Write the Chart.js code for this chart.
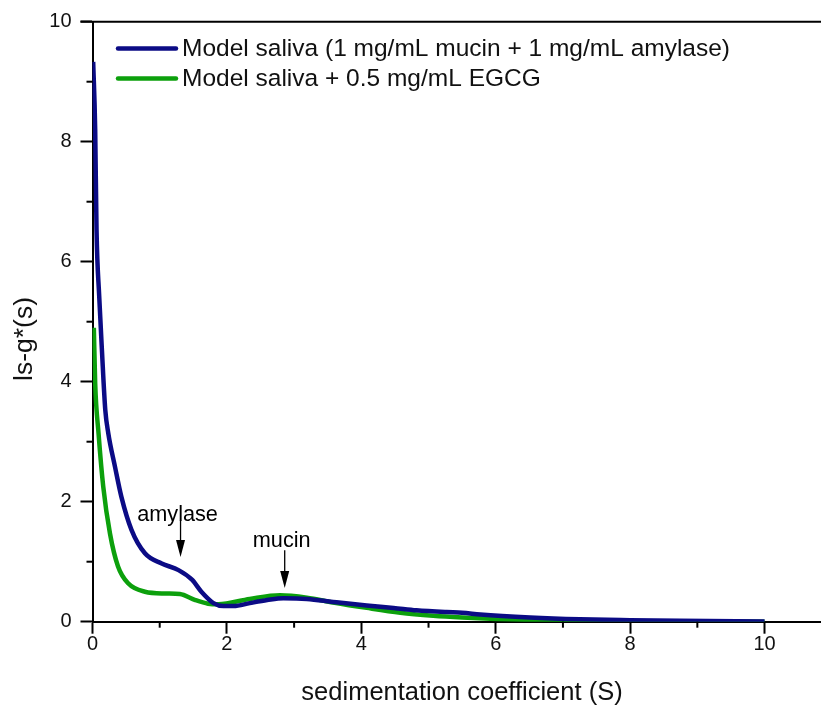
<!DOCTYPE html>
<html>
<head>
<meta charset="utf-8">
<script src="https://cdn.jsdelivr.net/npm/chart.js@4"></script>
<style>
  html, body { margin: 0; padding: 0; background: #fff; overflow: hidden; }
  #wrap { width: 821px; height: 709px; }
</style>
</head>
<body>
<div id="wrap"><canvas id="myChart" width="821" height="709"></canvas></div>
<script>
const FONT = "'Liberation Sans', Arial, sans-serif";

// model saliva (mucin + amylase)
const salivaS = [0.01, 0.04, 0.06, 0.1, 0.14, 0.19, 0.235, 0.335, 0.43, 0.58, 0.78, 1.03, 1.28, 1.48, 1.62, 1.8, 1.95, 2.1, 2.34, 2.6, 2.84, 3.19, 3.58, 4.08, 4.48, 4.82, 5.27, 5.5, 5.77, 6.51, 7.25, 8.0, 8.74, 10];
const salivaG = [9.33, 8.2, 6.53, 5.42, 4.53, 3.53, 3.14, 2.58, 2.08, 1.53, 1.14, 0.97, 0.86, 0.70, 0.50, 0.31, 0.26, 0.26, 0.31, 0.36, 0.39, 0.38, 0.33, 0.27, 0.23, 0.19, 0.16, 0.15, 0.12, 0.07, 0.04, 0.025, 0.015, 0.005];

// model saliva + EGCG
const egcgS = [0.02, 0.04, 0.09, 0.16, 0.26, 0.38, 0.53, 0.78, 1.08, 1.3, 1.53, 1.72, 1.87, 2.34, 2.79, 3.19, 3.58, 4.08, 4.58, 5.07, 5.5, 6.0, 6.51, 7.5, 10];
const egcgG = [4.9, 3.97, 3.14, 2.25, 1.47, 0.92, 0.64, 0.50, 0.47, 0.46, 0.36, 0.30, 0.29, 0.38, 0.44, 0.40, 0.32, 0.23, 0.15, 0.10, 0.07, 0.045, 0.03, 0.01, 0.0];

const seriesLabels = ['Model saliva (1 mg/mL mucin + 1 mg/mL amylase)', 'Model saliva + 0.5 mg/mL EGCG'];
const xTicks = [0, 2, 4, 6, 8, 10];
const yTicks = [0, 2, 4, 6, 8, 10];

const notes = [
  { text: 'amylase', x: 1.31, textY: 1.68, from: 1.69, to: 1.08 },
  { text: 'mucin', x: 2.86, textY: 1.25, from: 1.19, to: 0.56 }
];

const toPoints = (xs, ys) => xs.map((x, i) => ({ x: x, y: ys[i] }));

const extras = {
  id: 'extras',
  afterDraw(chart) {
    const c = chart.ctx, a = chart.chartArea;
    const xs = chart.scales.x, ys = chart.scales.y;
    c.save();
    c.strokeStyle = '#000';
    c.lineWidth = 2;
    // top frame line
    c.beginPath();
    c.moveTo(a.left - 12, a.top);
    c.lineTo(a.right, a.top);
    c.stroke();
    // minor ticks
    for (let v = 1; v < 10; v += 2) {
      const px = xs.getPixelForValue(v);
      c.beginPath(); c.moveTo(px, a.bottom); c.lineTo(px, a.bottom + 6); c.stroke();
      const py = ys.getPixelForValue(v);
      c.beginPath(); c.moveTo(a.left, py); c.lineTo(a.left - 6, py); c.stroke();
    }
    // annotations
    c.fillStyle = '#000';
    c.font = '21.7px ' + FONT;
    c.textAlign = 'center';
    c.textBaseline = 'alphabetic';
    c.lineWidth = 1.3;
    notes.forEach(n => {
      const px = xs.getPixelForValue(n.x);
      c.fillText(n.text, px - 3, ys.getPixelForValue(n.textY));
      const y0 = ys.getPixelForValue(n.from), y1 = ys.getPixelForValue(n.to);
      c.beginPath(); c.moveTo(px, y0); c.lineTo(px, y1 - 14); c.stroke();
      c.beginPath();
      c.moveTo(px - 4.5, y1 - 17); c.lineTo(px + 4.5, y1 - 17); c.lineTo(px, y1); c.closePath();
      c.fill();
    });
    // legend
    c.font = '24.5px ' + FONT;
    c.textAlign = 'left';
    c.textBaseline = 'middle';
    chart.data.datasets.forEach((ds, i) => {
      const y = 48.5 + i * 30;
      c.strokeStyle = ds.borderColor;
      c.lineWidth = 4.5;
      c.lineCap = 'round';
      c.beginPath(); c.moveTo(118, y); c.lineTo(176, y); c.stroke();
      c.fillStyle = '#111';
      c.fillText(ds.label, 182, y + 1);
    });
    // axis titles
    c.font = '25.5px ' + FONT;
    c.textAlign = 'center';
    c.fillText('sedimentation coefficient (S)', 462, 693);
    c.font = '26.5px ' + FONT;
    c.translate(25, 339);
    c.rotate(-Math.PI / 2);
    c.fillText('ls-g*(s)', 0, 0);
    c.restore();
  }
};

const ctx = document.getElementById('myChart');

const myChart = new Chart(ctx, {
  type: 'line',
  data: {
    datasets: [{
      label: seriesLabels[0],
      data: toPoints(salivaS, salivaG),
      borderColor: '#0b0b85',
      borderWidth: 4.5,
      pointRadius: 0,
      cubicInterpolationMode: 'monotone'
    }, {
      label: seriesLabels[1],
      data: toPoints(egcgS, egcgG),
      borderColor: '#0ca00c',
      borderWidth: 4.5,
      pointRadius: 0,
      cubicInterpolationMode: 'monotone'
    }]
  },
  options: {
    responsive: false,
    animation: false,
    events: [],
    layout: { padding: { top: 21.7, right: 0, left: 0, bottom: 0 } },
    plugins: { legend: { display: false }, tooltip: { enabled: false } },
    scales: {
      x: {
        type: 'linear',
        min: 0,
        max: 10.84,
        afterFit: s => { s.height = 87.3; },
        afterBuildTicks: s => { s.ticks = xTicks.map(v => ({ value: v })); },
        border: { color: '#000', width: 2 },
        grid: { drawOnChartArea: false, tickLength: 12, tickWidth: 2, tickColor: '#000' },
        ticks: { color: '#111', font: { family: FONT, size: 20 }, padding: -1, maxRotation: 0 }
      },
      y: {
        min: 0,
        max: 10,
        afterFit: s => { s.width = 92.5; },
        afterBuildTicks: s => { s.ticks = yTicks.map(v => ({ value: v })); },
        border: { color: '#000', width: 2 },
        grid: { drawOnChartArea: false, tickLength: 12, tickWidth: 2, tickColor: '#000' },
        ticks: { color: '#111', font: { family: FONT, size: 20 }, padding: 9 }
      }
    }
  },
  plugins: [extras]
});
</script>
</body>
</html>
